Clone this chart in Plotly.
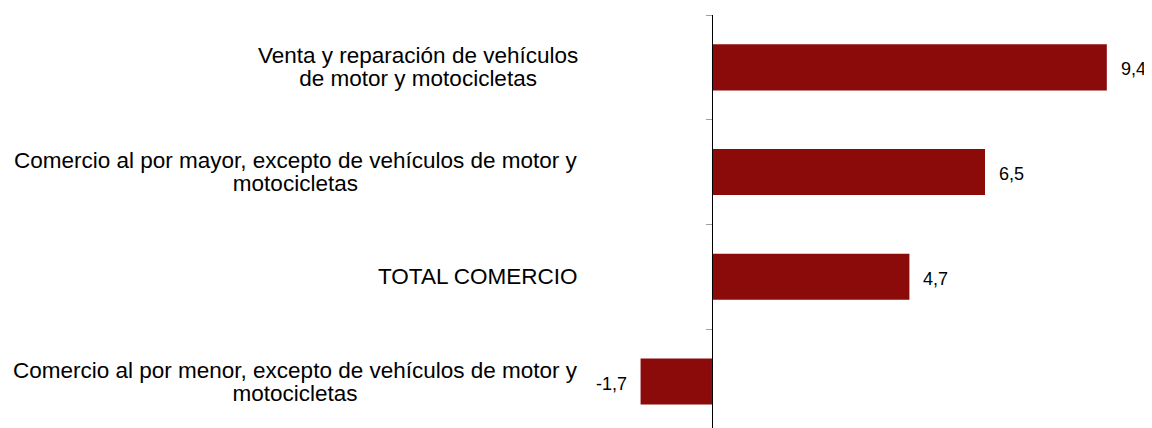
import plotly.graph_objects as go

categories = [
    "Venta y reparación de vehículos de motor y motocicletas",
    "Comercio al por mayor, excepto de vehículos de motor y motocicletas",
    "TOTAL COMERCIO",
    "Comercio al por menor, excepto de vehículos de motor y motocicletas",
]
category_labels = [
    "Venta y reparación de vehículos<br>de motor y motocicletas",
    "Comercio al por mayor, excepto de vehículos de motor y<br>motocicletas",
    "TOTAL COMERCIO",
    "Comercio al por menor, excepto de vehículos de motor y<br>motocicletas",
]
values = [9.4, 6.5, 4.7, -1.7]

BAR_COLOR = "#8B0B0B"
FONT = "Liberation Sans, Arial, sans-serif"

# page body has an 8px default margin; figure is sized to fill the window
OFF = 8
W, H = 1152 - OFF, 428 - OFF
ML, MR, MT, MB = 620 - OFF, 0, 15 - OFF, 0
x_range = [-2.19, 10.476]
plot_w = W - ML - MR
zero_pos = (0 - x_range[0]) / (x_range[1] - x_range[0])

fig = go.Figure()
fig.add_trace(go.Bar(
    x=values,
    y=categories,
    orientation="h",
    width=0.44,
    marker=dict(color=BAR_COLOR, line=dict(width=0)),
    hoverinfo="skip",
))

annotations = []
label_x = (580 - OFF - ML) / plot_w
for cat, lab in zip(categories, category_labels):
    annotations.append(dict(
        x=label_x, xref="paper", y=cat, yref="y",
        text=f'<span style="font-size:22.5px">{lab}</span>',
        showarrow=False, xanchor="right", yanchor="middle", align="center",
        font=dict(family=FONT, size=18, color="#000000"),
    ))
for cat, v in zip(categories, values):
    txt = f"{v:.1f}".replace(".", ",")
    annotations.append(dict(
        x=v, xref="x", y=cat, yref="y",
        text=txt, showarrow=False,
        xanchor="left" if v >= 0 else "right",
        xshift=12 if v >= 0 else -12,
        yshift=-2,
        yanchor="middle",
        font=dict(family=FONT, size=18, color="#000000"),
    ))

fig.update_layout(
    width=W, height=H,
    margin=dict(l=ML, r=MR, t=MT, b=MB, pad=0),
    paper_bgcolor="white", plot_bgcolor="white",
    showlegend=False,
    annotations=annotations,
    xaxis=dict(range=x_range, showgrid=False, zeroline=False,
               showticklabels=False, showline=False, ticks=""),
    yaxis=dict(
        type="category",
        categoryorder="array", categoryarray=categories,
        range=[3.444, -0.5],
        anchor="free", position=zero_pos,
        showline=True, linecolor="#000000", linewidth=1,
        ticks="outside", tickson="boundaries", ticklen=6,
        tickcolor="#A0A0A0", tickwidth=1,
        showticklabels=False, showgrid=False, zeroline=False,
    ),
)

fig.write_html("out.html")
